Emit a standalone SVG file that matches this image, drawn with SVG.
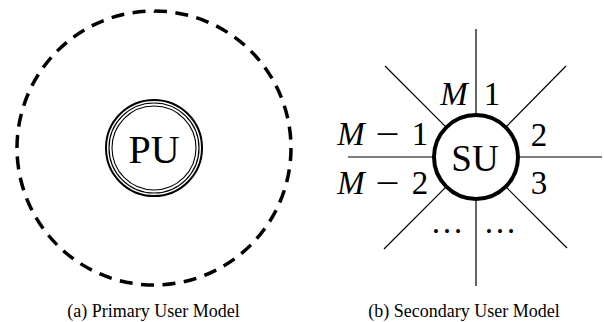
<svg xmlns="http://www.w3.org/2000/svg" width="604" height="322" viewBox="0 0 604 322">
  <style>
    text { font-family: 'Liberation Serif', 'DejaVu Serif', serif; fill: #000; }
    .label { font-size: 33px; text-anchor: middle; }
    .math { font-style: italic; }
    .caption { font-size: 18px; text-anchor: middle; }
    .ray { stroke: #000; stroke-width: 1.2; fill: none; }
  </style>

  <!-- (a) primary user: coverage boundary and the PU node -->
  <g id="pu-range">
    <!-- pathLength makes the dash period divide the circumference evenly -->
    <circle cx="154" cy="148" r="137" fill="none" stroke="#000" stroke-width="3.5" pathLength="860" stroke-dasharray="13 8.5"/>
  </g>
  <g id="pu">
    <circle cx="154" cy="148" r="48" fill="#fff" stroke="#000" stroke-width="2"/>
    <circle cx="154" cy="148" r="45" fill="none" stroke="#000" stroke-width="1.2"/>
    <circle cx="154" cy="148" r="42" fill="none" stroke="#000" stroke-width="1.1"/>
    <text x="154" y="163" font-size="40" text-anchor="middle">PU</text>
  </g>

  <!-- (b) secondary user: sector boundaries radiating from the SU node -->
  <g id="sectors">
    <line class="ray" x1="476" y1="115" x2="476" y2="29"/>
    <line class="ray" x1="476" y1="199" x2="476" y2="286"/>
    <line class="ray" x1="434" y1="157" x2="348" y2="157"/>
    <line class="ray" x1="518" y1="157" x2="602" y2="157"/>
    <line class="ray" x1="446.3" y1="127.3" x2="385" y2="66"/>
    <line class="ray" x1="505.7" y1="127.3" x2="566" y2="66"/>
    <line class="ray" x1="446.3" y1="186.7" x2="384" y2="249"/>
    <line class="ray" x1="505.7" y1="186.7" x2="567" y2="248"/>
  </g>
  <g id="su">
    <circle cx="476" cy="157" r="42" fill="#fff" stroke="#000" stroke-width="4"/>
    <text x="475" y="171" font-size="37" text-anchor="middle">SU</text>
  </g>

  <!-- sector indices -->
  <g id="sector-labels" class="label">
    <text class="math" x="454" y="105">M</text>
    <text x="492" y="105">1</text>
    <text x="539" y="146">2</text>
    <text x="539" y="194">3</text>
    <text x="351" y="145" class="math">M</text>
    <text x="387.5" y="145" textLength="24" lengthAdjust="spacingAndGlyphs">−</text>
    <text x="420" y="145">1</text>
    <text x="351" y="194" class="math">M</text>
    <text x="387.5" y="194" textLength="24" lengthAdjust="spacingAndGlyphs">−</text>
    <text x="420" y="194">2</text>
    <text x="447" y="233">…</text>
    <text x="500" y="233">…</text>
  </g>

  <!-- subfigure captions -->
  <g id="captions" class="caption">
    <text x="153.5" y="316.5">(a) Primary User Model</text>
    <text x="464" y="316.5">(b) Secondary User Model</text>
  </g>
</svg>
